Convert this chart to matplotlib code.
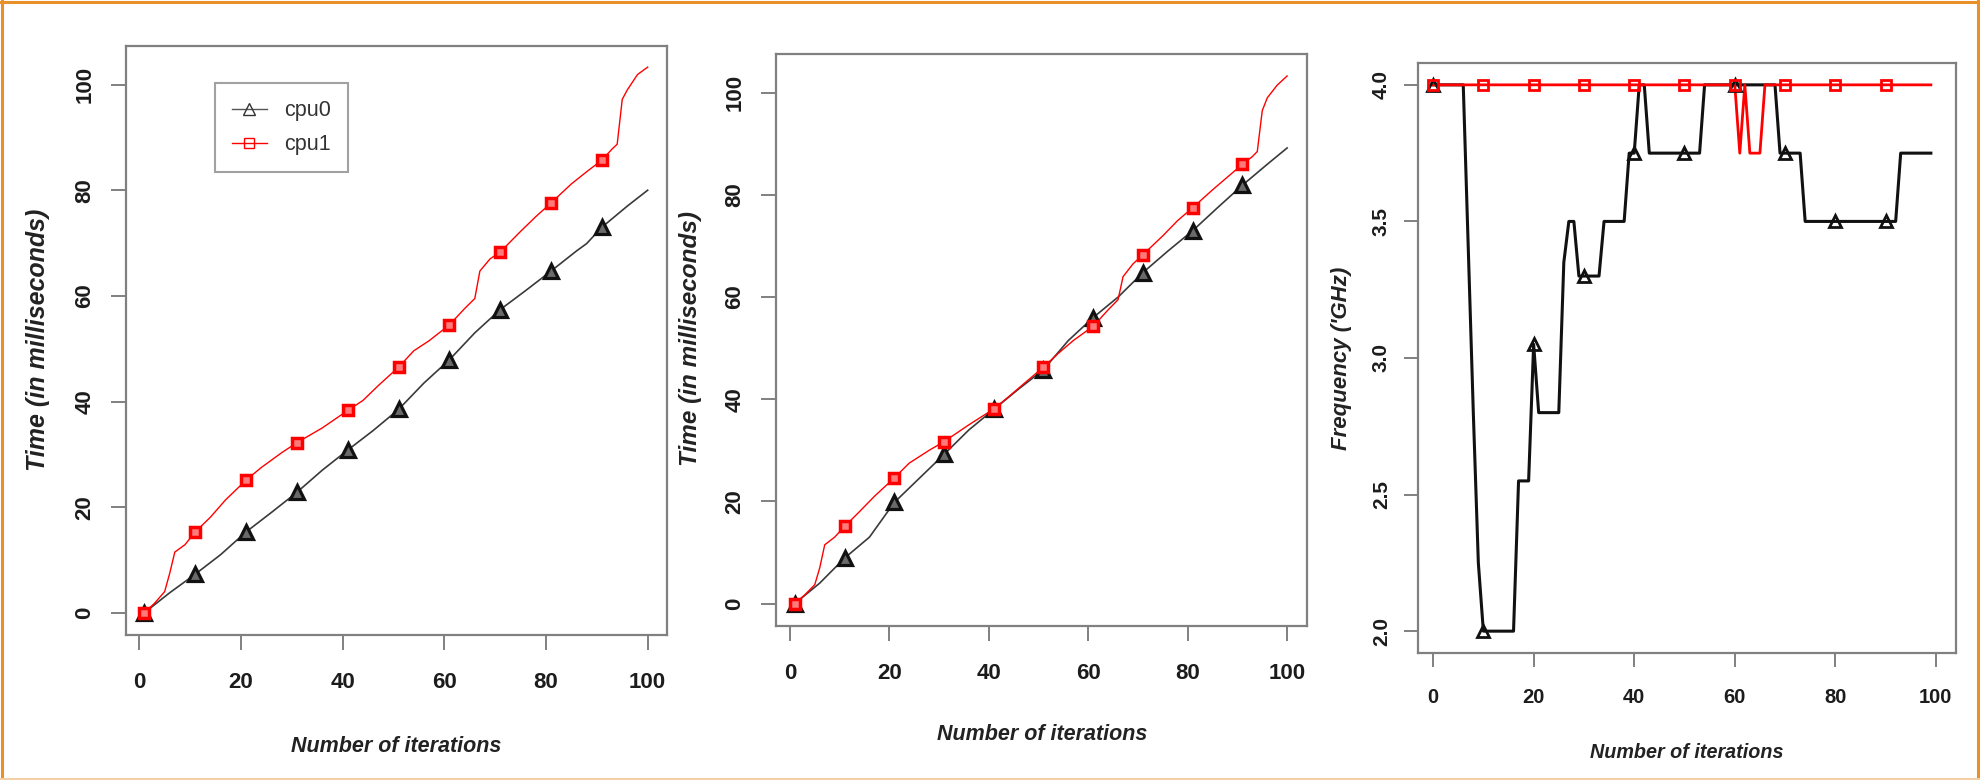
import numpy as np
import matplotlib
matplotlib.use('Agg')
import matplotlib.pyplot as plt
from matplotlib.lines import Line2D

W, H = 1980, 780
FONT = ['Liberation Sans', 'DejaVu Sans']
INK, SPINE, ORANGE = '#1c1c1c', '#808080', '#E8902A'

# ---- panel 1 : time per iteration (first run) ----
p1_x0 = [1, 6, 11, 16, 21, 26, 31, 36, 41, 46, 51, 56, 61, 66, 71, 76, 81, 86, 88, 91, 96, 100]
p1_cpu0 = [0, 3.8, 7.3, 11.0, 15.3, 19.0, 22.8, 27.0, 30.8, 34.5, 38.5, 43.5, 47.9, 53.0, 57.4, 61.0, 64.7,
           68.5, 69.9, 73.0, 77.0, 80.0]
p1_x1 = [1, 3, 5, 6, 7, 9, 11, 14, 17, 21, 24, 28, 31, 36, 41, 44, 47, 51, 54, 57, 61, 64, 66, 67, 69, 71,
         75, 78, 81, 85, 88, 91, 93, 94, 95, 96, 98, 100]
p1_cpu1 = [0, 1.8, 4.0, 7.5, 11.5, 12.9, 15.3, 18.1, 21.4, 25.1, 27.5, 30.3, 32.2, 35.0, 38.3, 40.2, 43.0,
           46.5, 49.6, 51.5, 54.5, 57.6, 59.5, 64.7, 67.0, 68.3, 72.2, 75.0, 77.6, 81.2, 83.5, 85.7, 87.8,
           88.7, 97.2, 99.0, 101.9, 103.3]

# ---- panel 2 : time per iteration (second run) ----
p2_x0 = [1, 6, 11, 16, 21, 26, 31, 36, 41, 46, 51, 56, 61, 66, 71, 76, 81, 86, 91, 96, 100]
p2_cpu0 = [0, 4.0, 8.9, 13.0, 19.8, 24.5, 29.2, 34.0, 38.0, 42.0, 45.8, 51.5, 56.0, 60.0, 64.8, 69.0, 73.0,
           77.5, 81.9, 86.0, 89.2]
p2_x1 = [1, 3, 5, 6, 7, 9, 11, 14, 17, 21, 24, 28, 31, 36, 41, 44, 47, 51, 54, 57, 61, 64, 66, 67, 69, 71,
         75, 78, 81, 85, 88, 91, 93, 94, 95, 96, 98, 100]
p2_cpu1 = [0, 1.7, 3.7, 7.0, 11.5, 13.0, 15.1, 18.0, 21.0, 24.6, 27.5, 30.0, 31.7, 35.0, 38.1, 40.5, 43.0,
           46.3, 49.0, 51.5, 54.3, 57.5, 59.5, 64.0, 66.5, 68.3, 72.0, 75.0, 77.5, 81.0, 83.5, 86.0, 87.5,
           88.5, 96.5, 99.0, 101.5, 103.3]
mark_x = [1, 11, 21, 31, 41, 51, 61, 71, 81, 91]

# ---- panel 3 : frequency per iteration ----
p3_x = list(range(100))
p3_cpu0 = [4.0, 4.0, 4.0, 4.0, 4.0, 4.0, 4.0, 3.4, 2.8, 2.25,
           2.0, 2.0, 2.0, 2.0, 2.0, 2.0, 2.0, 2.55, 2.55, 2.55,
           3.05, 2.8, 2.8, 2.8, 2.8, 2.8, 3.35, 3.5, 3.5, 3.3,
           3.3, 3.3, 3.3, 3.3, 3.5, 3.5, 3.5, 3.5, 3.5, 3.75,
           3.75, 4.0, 4.0, 3.75, 3.75, 3.75, 3.75, 3.75, 3.75, 3.75,
           3.75, 3.75, 3.75, 3.75, 4.0, 4.0, 4.0, 4.0, 4.0, 4.0,
           4.0, 4.0, 4.0, 4.0, 4.0, 4.0, 4.0, 4.0, 4.0, 3.75,
           3.75, 3.75, 3.75, 3.75, 3.5, 3.5, 3.5, 3.5, 3.5, 3.5,
           3.5, 3.5, 3.5, 3.5, 3.5, 3.5, 3.5, 3.5, 3.5, 3.5,
           3.5, 3.5, 3.5, 3.75, 3.75, 3.75, 3.75, 3.75, 3.75, 3.75]
p3_cpu1 = [4.0, 4.0, 4.0, 4.0, 4.0, 4.0, 4.0, 4.0, 4.0, 4.0,
           4.0, 4.0, 4.0, 4.0, 4.0, 4.0, 4.0, 4.0, 4.0, 4.0,
           4.0, 4.0, 4.0, 4.0, 4.0, 4.0, 4.0, 4.0, 4.0, 4.0,
           4.0, 4.0, 4.0, 4.0, 4.0, 4.0, 4.0, 4.0, 4.0, 4.0,
           4.0, 4.0, 4.0, 4.0, 4.0, 4.0, 4.0, 4.0, 4.0, 4.0,
           4.0, 4.0, 4.0, 4.0, 4.0, 4.0, 4.0, 4.0, 4.0, 4.0,
           4.0, 3.75, 4.0, 3.75, 3.75, 3.75, 4.0, 4.0, 4.0, 4.0,
           4.0, 4.0, 4.0, 4.0, 4.0, 4.0, 4.0, 4.0, 4.0, 4.0,
           4.0, 4.0, 4.0, 4.0, 4.0, 4.0, 4.0, 4.0, 4.0, 4.0,
           4.0, 4.0, 4.0, 4.0, 4.0, 4.0, 4.0, 4.0, 4.0, 4.0]
p3_mark_x = [0, 10, 20, 30, 40, 50, 60, 70, 80, 90]

legend_labels = ['cpu0', 'cpu1']
x_ticks = [0, 20, 40, 60, 80, 100]
time_ticks = [0, 20, 40, 60, 80, 100]
freq_ticks = [2.0, 2.5, 3.0, 3.5, 4.0]


def px_box(left, top, right, bottom):
    return [left / W, 1 - bottom / H, (right - left) / W, (bottom - top) / H]


def fpos(x, y):
    return x / W, 1 - y / H


def style_axes(ax, xsize, ysize, xpad, ypad, ticklen):
    for sp in ax.spines.values():
        sp.set_color(SPINE)
        sp.set_linewidth(1.6)
    ax.tick_params(direction='out', length=ticklen, width=1.4, color=SPINE)
    ax.tick_params(axis='x', pad=xpad)
    ax.tick_params(axis='y', pad=ypad)
    for lab in ax.get_xticklabels():
        lab.set_fontfamily(FONT)
        lab.set_fontweight('bold')
        lab.set_fontsize(xsize)
        lab.set_color(INK)
    for lab in ax.get_yticklabels():
        lab.set_fontfamily(FONT)
        lab.set_fontweight('bold')
        lab.set_fontsize(ysize)
        lab.set_color(INK)
        lab.set_rotation(90)
        lab.set_verticalalignment('center')


def pick(xs, ys, keep):
    xs, ys = np.asarray(xs), np.asarray(ys)
    m = np.isin(xs, keep)
    return xs[m], ys[m]


fig = plt.figure(figsize=(W / 100, H / 100), dpi=100)
fig.patch.set_facecolor('white')

# panels 1 and 2
time_panels = [
    (px_box(126, 46, 667, 635), (p1_x0, p1_cpu0, p1_x1, p1_cpu1), (-2.6, 103.8), (-4.2, 107.3)),
    (px_box(776, 54, 1307, 626), (p2_x0, p2_cpu0, p2_x1, p2_cpu1), (-2.8, 104.0), (-4.4, 107.6)),
]
axes = []
for box, (x0, y0, x1, y1), xl, yl in time_panels:
    ax = fig.add_axes(box)
    ax.plot(x0, y0, color='#3a3a3a', lw=1.2, zorder=2)
    ax.plot(x1, y1, color='#ff0000', lw=1.0, zorder=3)
    mx, my = pick(x0, y0, mark_x)
    ax.plot(mx, my, ls='none', marker='^', ms=9.5, mew=2.3, mec='#111111', mfc='#6a6a6a', zorder=4)
    mx, my = pick(x1, y1, mark_x)
    ax.plot(mx, my, ls='none', marker='s', ms=7.2, mew=2.5, mec='#ff0000', mfc='#ff7a7a', zorder=5)
    ax.set_xlim(*xl)
    ax.set_ylim(*yl)
    ax.set_xticks(x_ticks)
    ax.set_yticks(time_ticks)
    style_axes(ax, 16, 16, 16, 11.5, 10.5)
    axes.append(ax)

handles = [Line2D([], [], color='#555555', lw=1.0, marker='^', ms=8, mew=1.0, mec='#333333', mfc='none'),
           Line2D([], [], color='#ff0000', lw=1.0, marker='s', ms=7, mew=1.0, mec='#ff0000', mfc='none')]
leg = axes[0].legend(handles, legend_labels, loc='upper left', bbox_to_anchor=(0.1645, 0.937),
                     frameon=True, fancybox=False, borderaxespad=0, borderpad=0.8, handlelength=1.6,
                     handletextpad=0.8, labelspacing=0.6,
                     prop={'family': FONT, 'size': 15.5})
leg.get_frame().set_edgecolor('#8a8a8a')
leg.get_frame().set_linewidth(1.5)
for t in leg.get_texts():
    t.set_color('#333333')

# panel 3
ax3 = fig.add_axes(px_box(1418, 63, 1956, 653))
ax3.plot(p3_x, p3_cpu0, color='#111111', lw=2.2, zorder=2)
ax3.plot(p3_x, p3_cpu1, color='#ff0000', lw=2.0, zorder=3)
mx, my = pick(p3_x, p3_cpu0, p3_mark_x)
ax3.plot(mx, my, ls='none', marker='^', ms=8.5, mew=2.0, mec='#111111', mfc='none', zorder=4)
mx, my = pick(p3_x, p3_cpu1, p3_mark_x)
ax3.plot(mx, my, ls='none', marker='s', ms=7, mew=2.0, mec='#ff0000', mfc='none', zorder=5)
ax3.set_xlim(-3.0, 104.0)
ax3.set_ylim(1.92, 4.08)
ax3.set_xticks(x_ticks)
ax3.set_yticks(freq_ticks)
ax3.set_yticklabels([f'{v:.1f}' for v in freq_ticks])
style_axes(ax3, 14.5, 15, 15.5, 9.5, 10)

# axis titles
lab_kw = dict(family=FONT, fontweight='bold', fontstyle='italic', color='#222222', ha='center', va='center')
fig.text(*fpos(396, 746), 'Number of iterations', fontsize=15.5, **lab_kw)
fig.text(*fpos(1042, 734), 'Number of iterations', fontsize=15.5, **lab_kw)
fig.text(*fpos(1687, 752), 'Number of iterations', fontsize=14.2, **lab_kw)
fig.text(*fpos(38, 340), 'Time (in milliseconds)', fontsize=18, rotation=90, **lab_kw)
fig.text(*fpos(691, 338), 'Time (in milliseconds)', fontsize=17.5, rotation=90, **lab_kw)
fig.text(*fpos(1341, 358), "Frequency ('GHz)", fontsize=16, rotation=90, **lab_kw)

# orange frame round the picture
for xs, ys, col in [((1.5, 1.5), (0, H), ORANGE), ((0, W), (1.5, 1.5), ORANGE),
                    ((W - 2.5, W - 2.5), (0, H), ORANGE), ((0, W), (H - 1.5, H - 1.5), '#F3CFA6')]:
    fig.add_artist(Line2D([x / W for x in xs], [1 - y / H for y in ys], color=col, lw=2.2,
                          transform=fig.transFigure))

fig.savefig('out.png', dpi=100, facecolor='white')
